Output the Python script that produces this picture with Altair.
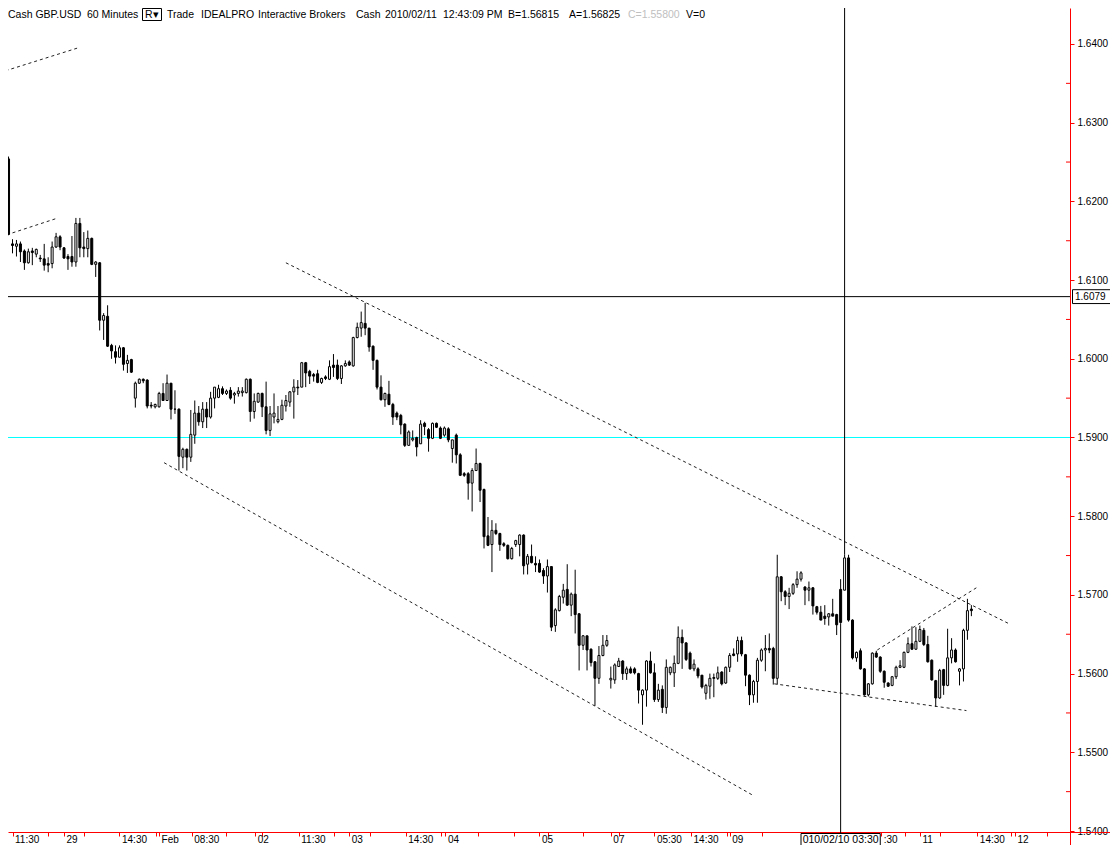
import altair as alt
import pandas as pd

# ---------------- candle data (GBP.USD, 60 minute bars) ----------------
open_p = [
    1.6254, 1.6146, 1.6143, 1.6146, 1.6137, 1.6122, 1.6137, 1.6133, 1.6128, 1.6127,
    1.6121, 1.6121, 1.6142, 1.6155, 1.6141, 1.6130, 1.6130, 1.6123, 1.6172, 1.6142,
    1.6140, 1.6153, 1.6120, 1.6122, 1.6049, 1.6054, 1.6017, 1.6009, 1.6002, 1.6014,
    1.5994, 1.5999, 1.5950, 1.5969, 1.5974, 1.5973, 1.5941, 1.5939, 1.5939, 1.5956,
    1.5947, 1.5969, 1.5936, 1.5936, 1.5875, 1.5885, 1.5875, 1.5903, 1.5931, 1.5920,
    1.5936, 1.5926, 1.5950, 1.5951, 1.5962, 1.5956, 1.5960, 1.5954, 1.5956, 1.5957,
    1.5957, 1.5974, 1.5933, 1.5945, 1.5956, 1.5939, 1.5909, 1.5926, 1.5920, 1.5923,
    1.5940, 1.5945, 1.5958, 1.5964, 1.5964, 1.5995, 1.5984, 1.5980, 1.5981, 1.5970,
    1.5977, 1.5974, 1.5992, 1.5992, 1.5975, 1.5991, 1.5996, 1.5991, 1.6027, 1.6039,
    1.6045, 1.6039, 1.6016, 1.5998, 1.5964, 1.5948, 1.5955, 1.5942, 1.5931, 1.5928,
    1.5917, 1.5890, 1.5897, 1.5900, 1.5892, 1.5918, 1.5910, 1.5899, 1.5918, 1.5912,
    1.5903, 1.5911, 1.5886, 1.5903, 1.5878, 1.5854, 1.5854, 1.5842, 1.5858, 1.5867,
    1.5834, 1.5775, 1.5764, 1.5782, 1.5778, 1.5765, 1.5763, 1.5746, 1.5764, 1.5764,
    1.5776, 1.5739, 1.5749, 1.5740, 1.5740, 1.5731, 1.5724, 1.5736, 1.5661, 1.5680,
    1.5697, 1.5707, 1.5687, 1.5701, 1.5676, 1.5636, 1.5648, 1.5631, 1.5615, 1.5594,
    1.5623, 1.5636, 1.5592, 1.5592, 1.5609, 1.5616, 1.5600, 1.5606, 1.5606, 1.5600,
    1.5573, 1.5579, 1.5616, 1.5601, 1.5567, 1.5580, 1.5557, 1.5601, 1.5601, 1.5613,
    1.5646, 1.5639, 1.5626, 1.5606, 1.5606, 1.5598, 1.5575, 1.5584, 1.5595, 1.5594,
    1.5602, 1.5588, 1.5608, 1.5625, 1.5625, 1.5642, 1.5624, 1.5598, 1.5573, 1.5590,
    1.5617, 1.5630, 1.5632, 1.5632, 1.5594, 1.5723, 1.5704, 1.5698, 1.5702, 1.5713,
    1.5720, 1.5710, 1.5706, 1.5709, 1.5685, 1.5678, 1.5673, 1.5672, 1.5676, 1.5675,
    1.5707, 1.5706, 1.5747, 1.5668, 1.5620, 1.5629, 1.5606, 1.5573, 1.5587, 1.5626,
    1.5621, 1.5603, 1.5588, 1.5585, 1.5596, 1.5608, 1.5608, 1.5627, 1.5638, 1.5631,
    1.5641, 1.5655, 1.5637, 1.5617, 1.5591, 1.5569, 1.5605, 1.5585, 1.5620, 1.5630,
    1.5603, 1.5606, 1.5655, 1.5682,
]
high_p = [
    1.6257, 1.6152, 1.6151, 1.6149, 1.6139, 1.6140, 1.6141, 1.6140, 1.6132, 1.6146,
    1.6129, 1.6149, 1.6160, 1.6157, 1.6142, 1.6133, 1.6156, 1.6179, 1.6179, 1.6161,
    1.6163, 1.6154, 1.6124, 1.6123, 1.6058, 1.6068, 1.6019, 1.6017, 1.6017, 1.6015,
    1.6005, 1.6000, 1.5971, 1.5975, 1.5975, 1.5974, 1.5945, 1.5943, 1.5958, 1.5969,
    1.5980, 1.5969, 1.5960, 1.5937, 1.5887, 1.5886, 1.5935, 1.5947, 1.5940, 1.5945,
    1.5945, 1.5958, 1.5964, 1.5967, 1.5965, 1.5961, 1.5964, 1.5958, 1.5964, 1.5964,
    1.5975, 1.5975, 1.5956, 1.5957, 1.5957, 1.5971, 1.5940, 1.5956, 1.5940, 1.5948,
    1.5954, 1.5959, 1.5974, 1.5973, 1.5996, 1.5996, 1.5986, 1.5982, 1.5986, 1.5976,
    1.5979, 1.5998, 1.6006, 1.5999, 1.5992, 1.5998, 1.5998, 1.6028, 1.6046, 1.6060,
    1.6071, 1.6039, 1.6017, 1.5999, 1.5979, 1.5957, 1.5972, 1.5944, 1.5933, 1.5930,
    1.5918, 1.5909, 1.5909, 1.5901, 1.5922, 1.5920, 1.5912, 1.5919, 1.5919, 1.5914,
    1.5914, 1.5913, 1.5897, 1.5905, 1.5880, 1.5856, 1.5856, 1.5861, 1.5886, 1.5868,
    1.5835, 1.5799, 1.5795, 1.5791, 1.5779, 1.5767, 1.5764, 1.5761, 1.5770, 1.5777,
    1.5777, 1.5752, 1.5764, 1.5749, 1.5745, 1.5734, 1.5745, 1.5736, 1.5683, 1.5700,
    1.5714, 1.5739, 1.5703, 1.5732, 1.5677, 1.5649, 1.5648, 1.5632, 1.5616, 1.5635,
    1.5649, 1.5649, 1.5609, 1.5613, 1.5620, 1.5617, 1.5609, 1.5609, 1.5608, 1.5601,
    1.5580, 1.5617, 1.5628, 1.5613, 1.5587, 1.5585, 1.5618, 1.5609, 1.5623, 1.5660,
    1.5656, 1.5640, 1.5628, 1.5618, 1.5608, 1.5598, 1.5587, 1.5600, 1.5600, 1.5609,
    1.5603, 1.5609, 1.5626, 1.5632, 1.5647, 1.5647, 1.5625, 1.5599, 1.5592, 1.5620,
    1.5632, 1.5649, 1.5651, 1.5634, 1.5751, 1.5724, 1.5706, 1.5709, 1.5715, 1.5730,
    1.5730, 1.5711, 1.5717, 1.5710, 1.5686, 1.5686, 1.5687, 1.5677, 1.5695, 1.5676,
    1.5720, 1.5751, 1.5751, 1.5669, 1.5628, 1.5632, 1.5607, 1.5588, 1.5627, 1.5629,
    1.5622, 1.5604, 1.5589, 1.5597, 1.5610, 1.5617, 1.5628, 1.5646, 1.5660, 1.5659,
    1.5661, 1.5658, 1.5648, 1.5618, 1.5592, 1.5606, 1.5606, 1.5657, 1.5645, 1.5632,
    1.5607, 1.5657, 1.5695, 1.5687,
]
low_p = [
    1.6157, 1.6134, 1.6130, 1.6123, 1.6113, 1.6121, 1.6119, 1.6129, 1.6123, 1.6112,
    1.6110, 1.6115, 1.6141, 1.6138, 1.6127, 1.6113, 1.6117, 1.6117, 1.6129, 1.6129,
    1.6129, 1.6119, 1.6104, 1.6036, 1.6024, 1.6015, 1.6000, 1.5994, 1.6002, 1.5985,
    1.5982, 1.5982, 1.5938, 1.5968, 1.5969, 1.5937, 1.5937, 1.5937, 1.5938, 1.5947,
    1.5947, 1.5923, 1.5930, 1.5858, 1.5861, 1.5858, 1.5869, 1.5892, 1.5915, 1.5912,
    1.5912, 1.5924, 1.5937, 1.5950, 1.5954, 1.5954, 1.5948, 1.5943, 1.5952, 1.5952,
    1.5956, 1.5920, 1.5924, 1.5944, 1.5926, 1.5904, 1.5902, 1.5918, 1.5918, 1.5922,
    1.5933, 1.5939, 1.5924, 1.5954, 1.5964, 1.5964, 1.5968, 1.5971, 1.5969, 1.5968,
    1.5973, 1.5973, 1.5977, 1.5973, 1.5968, 1.5990, 1.5991, 1.5990, 1.6026, 1.6028,
    1.6030, 1.6009, 1.5986, 1.5961, 1.5947, 1.5939, 1.5941, 1.5916, 1.5922, 1.5904,
    1.5888, 1.5890, 1.5895, 1.5876, 1.5892, 1.5903, 1.5882, 1.5898, 1.5912, 1.5898,
    1.5901, 1.5894, 1.5868, 1.5867, 1.5851, 1.5850, 1.5821, 1.5806, 1.5858, 1.5818,
    1.5759, 1.5762, 1.5729, 1.5776, 1.5756, 1.5761, 1.5745, 1.5745, 1.5761, 1.5749,
    1.5726, 1.5726, 1.5740, 1.5729, 1.5728, 1.5714, 1.5703, 1.5654, 1.5653, 1.5679,
    1.5689, 1.5686, 1.5673, 1.5651, 1.5604, 1.5630, 1.5604, 1.5609, 1.5559, 1.5587,
    1.5622, 1.5634, 1.5581, 1.5587, 1.5609, 1.5592, 1.5592, 1.5600, 1.5599, 1.5562,
    1.5535, 1.5558, 1.5600, 1.5564, 1.5564, 1.5550, 1.5549, 1.5598, 1.5583, 1.5612,
    1.5606, 1.5616, 1.5605, 1.5603, 1.5594, 1.5581, 1.5567, 1.5568, 1.5570, 1.5592,
    1.5585, 1.5587, 1.5602, 1.5622, 1.5615, 1.5622, 1.5584, 1.5560, 1.5563, 1.5563,
    1.5615, 1.5603, 1.5626, 1.5586, 1.5586, 1.5692, 1.5687, 1.5682, 1.5700, 1.5709,
    1.5717, 1.5687, 1.5692, 1.5675, 1.5675, 1.5668, 1.5662, 1.5661, 1.5673, 1.5649,
    1.5664, 1.5706, 1.5666, 1.5618, 1.5615, 1.5605, 1.5572, 1.5571, 1.5586, 1.5620,
    1.5601, 1.5582, 1.5583, 1.5584, 1.5593, 1.5607, 1.5607, 1.5626, 1.5630, 1.5630,
    1.5640, 1.5635, 1.5614, 1.5591, 1.5558, 1.5568, 1.5573, 1.5584, 1.5613, 1.5614,
    1.5585, 1.5590, 1.5643, 1.5673,
]
close_p = [
    1.6158, 1.6144, 1.6146, 1.6136, 1.6122, 1.6136, 1.6135, 1.6139, 1.6127, 1.6119,
    1.6119, 1.6142, 1.6155, 1.6142, 1.6128, 1.6127, 1.6123, 1.6172, 1.6141, 1.6140,
    1.6153, 1.6120, 1.6123, 1.6049, 1.6055, 1.6016, 1.6010, 1.6002, 1.6014, 1.5993,
    1.5998, 1.5983, 1.5969, 1.5974, 1.5972, 1.5940, 1.5940, 1.5942, 1.5956, 1.5947,
    1.5969, 1.5936, 1.5936, 1.5876, 1.5885, 1.5875, 1.5904, 1.5931, 1.5920, 1.5936,
    1.5926, 1.5950, 1.5964, 1.5962, 1.5956, 1.5959, 1.5950, 1.5956, 1.5959, 1.5959,
    1.5974, 1.5933, 1.5946, 1.5956, 1.5939, 1.5909, 1.5930, 1.5931, 1.5923, 1.5941,
    1.5947, 1.5958, 1.5964, 1.5963, 1.5995, 1.5982, 1.5978, 1.5978, 1.5970, 1.5975,
    1.5975, 1.5990, 1.5989, 1.5975, 1.5991, 1.5994, 1.5992, 1.6027, 1.6040, 1.6046,
    1.6039, 1.6015, 1.5998, 1.5964, 1.5948, 1.5956, 1.5942, 1.5926, 1.5926, 1.5916,
    1.5890, 1.5907, 1.5899, 1.5888, 1.5917, 1.5914, 1.5899, 1.5918, 1.5913, 1.5899,
    1.5912, 1.5897, 1.5897, 1.5878, 1.5852, 1.5852, 1.5842, 1.5858, 1.5867, 1.5833,
    1.5774, 1.5763, 1.5782, 1.5778, 1.5764, 1.5763, 1.5746, 1.5759, 1.5769, 1.5776,
    1.5737, 1.5749, 1.5741, 1.5738, 1.5729, 1.5724, 1.5736, 1.5659, 1.5681, 1.5698,
    1.5706, 1.5687, 1.5701, 1.5675, 1.5636, 1.5648, 1.5630, 1.5614, 1.5594, 1.5623,
    1.5636, 1.5642, 1.5594, 1.5611, 1.5616, 1.5600, 1.5606, 1.5601, 1.5601, 1.5579,
    1.5579, 1.5616, 1.5601, 1.5567, 1.5579, 1.5557, 1.5608, 1.5608, 1.5613, 1.5646,
    1.5639, 1.5618, 1.5606, 1.5612, 1.5597, 1.5583, 1.5585, 1.5594, 1.5594, 1.5601,
    1.5587, 1.5608, 1.5623, 1.5623, 1.5642, 1.5625, 1.5598, 1.5573, 1.5590, 1.5617,
    1.5630, 1.5632, 1.5630, 1.5594, 1.5723, 1.5704, 1.5698, 1.5702, 1.5713, 1.5720,
    1.5728, 1.5706, 1.5709, 1.5686, 1.5678, 1.5668, 1.5670, 1.5676, 1.5673, 1.5662,
    1.5665, 1.5747, 1.5668, 1.5620, 1.5627, 1.5606, 1.5573, 1.5587, 1.5626, 1.5621,
    1.5603, 1.5589, 1.5584, 1.5596, 1.5608, 1.5610, 1.5627, 1.5638, 1.5631, 1.5641,
    1.5656, 1.5637, 1.5615, 1.5592, 1.5569, 1.5604, 1.5585, 1.5620, 1.5630, 1.5615,
    1.5606, 1.5655, 1.5680, 1.5680,
]

# ---------------- drawn trend lines (bar index, price) ----------------
trend_x1 = [-0.75, 1.0, 70.0, 39.25, 193.25, 219.25]
trend_p1 = [1.6366, 1.6160, 1.6122, 1.5868, 1.5587, 1.5630]
trend_x2 = [17.5, 12.5, 252.25, 188.0, 241.75, 244.25]
trend_p2 = [1.6395, 1.6179, 1.5664, 1.5445, 1.5553, 1.5709]

# horizontal lines
support_price = 1.5900
cross_price = 1.6079
cross_label = "1.6079"

# crosshair (bar index, price where it meets the bar)
cross_top_bar, cross_top_price = 211, 1.5751
cross_bot_bar, cross_bot_price = 210, 1.5664
cross_date = "010/02/10 03:30"
cross_box_bars = [200, 220]

# time axis: tick positions in bar index, with their labels
tick_pos = [1.0, 10.0, 14.0, 19.0, 28.0, 37.25, 38.0, 46.25, 55.0, 62.25, 64.0,
            73.25, 82.25, 86.0, 91.25, 100.25, 109.25, 110.25, 118.5, 127.5,
            134.0, 136.25, 145.0, 152.0, 154.0, 163.0, 172.25, 181.25, 182.0,
            190.25, 220.25, 226.25, 230.0, 235.0, 244.5, 253.0, 254.0, 262.0]
tick_lab = ["11:30", "", "29", "", "14:30", "", "Feb", "08:30", "", "02", "",
            "11:30", "", "03", "", "14:30", "", "04", "", "",
            "05", "", "", "07", "", "05:30", "14:30", "", "09",
            "", ":30", "", "11", "", "14:30", "", "12", ""]

price_ticks = [1.54, 1.55, 1.56, 1.57, 1.58, 1.59, 1.60, 1.61, 1.62, 1.63, 1.64]
price_minor = [1.545, 1.555, 1.565, 1.575, 1.585, 1.595, 1.605, 1.615, 1.625, 1.635]

header_text = ["Cash GBP.USD", "60 Minutes", "R\u25be", "Trade", "IDEALPRO",
               "Interactive Brokers", "Cash", "2010/02/11", "12:43:09 PM",
               "B=1.56815", "A=1.56825", "C=1.55800", "V=0"]
header_x = [0, 79, 137, 159, 193, 250, 348, 377, 435, 500, 561, 620, 678]
header_col = ["#000000"] * 11 + ["#c0c0c0", "#000000"]

# ---------------- chart ----------------
FONT = "Liberation Sans"
W, H = 1062, 824
RED = "#ff0000"
CYAN = "#00ffff"

candles = pd.DataFrame({"i": list(range(len(open_p))), "open": open_p,
                        "high": high_p, "low": low_p, "close": close_p})
trends = pd.DataFrame({"x1": trend_x1, "p1": trend_p1, "x2": trend_x2, "p2": trend_p2})

label_expr = "".join(
    f"datum.value == {p} ? '{l}' : " for p, l in zip(tick_pos, tick_lab) if l
) + "''"

xscale = alt.Scale(domain=[1.125, 266.625], nice=False, zero=False)
yscale = alt.Scale(domain=[1.539873, 1.644574], nice=False, zero=False)

xaxis = alt.Axis(title=None, orient="bottom", values=tick_pos, labelExpr=label_expr,
                 domainColor=RED, tickColor=RED, tickSize=4, domainWidth=1, tickWidth=1,
                 labelAlign="left", labelBaseline="top", labelPadding=-2, labelOffset=2,
                 labelFont=FONT, labelFontSize=10, labelColor="#000000",
                 labelOverlap=False, labelFlush=False, labelBound=False, grid=False)
yaxis = alt.Axis(title=None, orient="right", values=price_ticks, format=".4f",
                 domainColor=RED, tickColor=RED, tickSize=4, domainWidth=1, tickWidth=1,
                 labelAlign="left", labelBaseline="middle", labelPadding=3,
                 labelFont=FONT, labelFontSize=10, labelColor="#000000",
                 labelOverlap=False, labelFlush=False, grid=False)


def X(f):
    return alt.X(f, type="quantitative", scale=xscale, axis=xaxis)


def Y(f):
    return alt.Y(f, type="quantitative", scale=yscale, axis=yaxis)


sup = alt.Chart(pd.DataFrame({"p": [support_price]})).mark_rule(
    strokeWidth=1, color=CYAN).encode(y=Y("p"))
crs = alt.Chart(pd.DataFrame({"p": [cross_price]})).mark_rule(
    strokeWidth=1, color="#000000").encode(y=Y("p"))

tr = alt.Chart(trends).mark_rule(strokeWidth=1, strokeDash=[3, 3], color="#222222",
                                 clip=True).encode(
    x=X("x1"), y=Y("p1"), x2="x2", y2="p2")

ch_top = alt.Chart(pd.DataFrame({"i": [cross_top_bar], "p": [cross_top_price]})).mark_rule(
    color="black", strokeWidth=1).encode(x=X("i"), y=Y("p"), y2=alt.value(0))
ch_bot = alt.Chart(pd.DataFrame({"i": [cross_bot_bar], "p": [cross_bot_price]})).mark_rule(
    color="black", strokeWidth=1).encode(x=X("i"), y=Y("p"), y2=alt.value(H + 1))

wick = alt.Chart(candles).mark_rule(color="black", strokeWidth=1, clip=True).encode(
    x=X("i"), y=Y("low"), y2="high")
body = alt.Chart(candles).mark_bar(size=2, stroke="black", strokeWidth=1, clip=True).encode(
    x=X("i"), y=Y("open"), y2="close",
    fill=alt.condition("datum.close < datum.open", alt.value("#000000"), alt.value("#ffffff")))

minor = alt.Chart(pd.DataFrame({"p": price_minor})).mark_rule(color=RED, strokeWidth=1).encode(
    y=Y("p"), x=alt.value(W - 4), x2=alt.value(W))

# red axis lines continuing past their crossing at the bottom right
corner_v = alt.Chart(pd.DataFrame({"k": [0]})).mark_rule(color=RED, strokeWidth=1).encode(
    x=alt.value(W + 0.5), y=alt.value(H), y2=alt.value(H + 14))
corner_h = alt.Chart(pd.DataFrame({"k": [0]})).mark_rule(color=RED, strokeWidth=1).encode(
    x=alt.value(W), x2=alt.value(W + 40), y=alt.value(H + 0.5))

plab = pd.DataFrame({"p": [cross_price], "t": [cross_label]})
pbox = alt.Chart(plab).transform_calculate(
    lo="datum.p - 0.00088", hi="datum.p + 0.00088").mark_rect(
    fill="white", stroke="black", strokeWidth=1).encode(
    x=alt.value(W + 2.5), x2=alt.value(W + 41), y=Y("lo"), y2="hi")
ptxt = alt.Chart(plab).mark_text(align="left", baseline="middle", font=FONT,
                                 fontSize=10, color="black").encode(
    x=alt.value(W + 5), y=Y("p"), text="t:N")

dlab = pd.DataFrame({"a": [cross_box_bars[0]], "b": [cross_box_bars[1]],
                     "i": [cross_bot_bar], "t": [cross_date]})
dbox = alt.Chart(dlab).mark_rect(fill="white", stroke="black", strokeWidth=1).encode(
    x=X("a"), x2="b", y=alt.value(H + 1.5), y2=alt.value(H + 20))
dtxt = alt.Chart(dlab).mark_text(align="center", baseline="alphabetic", font=FONT,
                                 fontSize=10.5, color="black").encode(
    x=X("i"), y=alt.value(H + 10.5), text="t:N")

hdr_layers = []
for t, hx, hc in zip(header_text, header_x, header_col):
    hdr_layers.append(
        alt.Chart(pd.DataFrame({"t": [t]})).mark_text(
            align="left", baseline="alphabetic", font=FONT, fontSize=10.5, color=hc
        ).encode(x=alt.value(hx), y=alt.value(10), text="t:N"))
rbox = alt.Chart(pd.DataFrame({"t": ["R"]})).mark_rect(
    fill=None, stroke="black", strokeWidth=1).encode(
    x=alt.value(134.5), x2=alt.value(153.5), y=alt.value(0.5), y2=alt.value(12.5))

chart = alt.layer(
    sup, crs, tr, ch_top, ch_bot, wick, body, minor, corner_v, corner_h,
    pbox, ptxt, dbox, dtxt, rbox, *hdr_layers
).properties(
    width=W, height=H,
    autosize=alt.AutoSizeParams(type="none"),
    padding={"left": 0, "top": 0, "right": 40, "bottom": 13},
    background="white",
).configure_view(stroke=None)

chart.save("out.html", embed_options={"renderer": "svg", "actions": False})
